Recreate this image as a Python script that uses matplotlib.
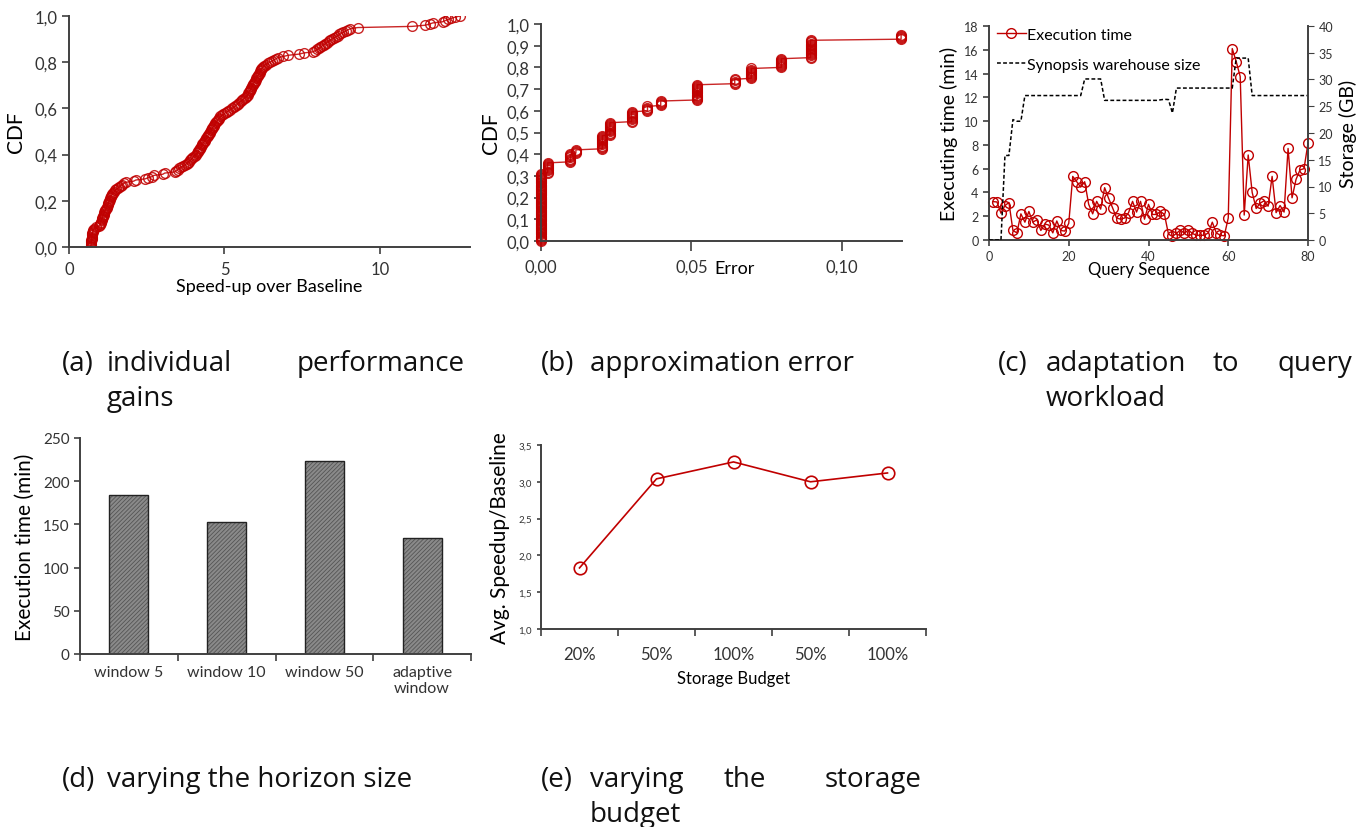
import numpy as np
import matplotlib
matplotlib.use('Agg')
import matplotlib.pyplot as plt
from matplotlib.ticker import FuncFormatter, FixedLocator

plt.rcParams['font.family'] = ['Lato', 'DejaVu Sans']
plt.rcParams['hatch.linewidth'] = 0.6

W, H = 1371, 828
RED = '#C00000'
GREY = '#404040'

# (a) speed-up over baseline, one value per query (sorted)
speedups = [
    0.70, 0.70, 0.71, 0.71, 0.72, 0.72, 0.72, 0.73, 0.73, 0.74, 0.74, 0.75, 0.75, 0.76, 0.77, 0.78,
    0.82, 0.88, 0.95,
    1.00, 1.01, 1.02, 1.03, 1.05, 1.06, 1.07, 1.08, 1.10, 1.11, 1.12, 1.14, 1.15, 1.17, 1.19, 1.21, 1.23,
    1.24, 1.26, 1.27, 1.28, 1.30, 1.31, 1.32, 1.34, 1.35, 1.37, 1.39, 1.42, 1.45, 1.48,
    1.52, 1.57, 1.62, 1.66, 1.71, 1.76,
    1.82, 2.08, 2.15, 2.45,
    2.55, 2.68, 2.73, 3.02, 3.08, 3.40, 3.45, 3.50,
    3.55, 3.60, 3.66, 3.72, 3.78, 3.82, 3.86, 3.90, 3.94, 3.97, 4.00, 4.04, 4.08, 4.12,
    4.14, 4.16, 4.18, 4.20, 4.23, 4.25, 4.27, 4.29, 4.31, 4.34, 4.36, 4.38, 4.41, 4.44,
    4.46, 4.48, 4.50, 4.52, 4.55, 4.57, 4.59, 4.61, 4.63, 4.66, 4.68, 4.70, 4.73, 4.75, 4.78, 4.81, 4.84, 4.87,
    4.92, 4.97, 5.02, 5.08, 5.13, 5.18, 5.24, 5.30,
    5.34, 5.39, 5.43, 5.48, 5.52, 5.57, 5.61, 5.65, 5.69, 5.73,
    5.75, 5.77, 5.79, 5.81, 5.83, 5.85, 5.87, 5.89, 5.91, 5.93, 5.95, 5.97, 5.99, 6.01, 6.03, 6.05,
    6.07, 6.09, 6.11, 6.13, 6.15, 6.17, 6.19, 6.21, 6.24, 6.27,
    6.33, 6.40, 6.47, 6.54, 6.60, 6.66, 6.72, 6.90,
    7.05, 7.40, 7.55, 7.85,
    7.92, 7.98, 8.04, 8.09, 8.14, 8.19, 8.24, 8.30,
    8.35, 8.40, 8.46, 8.52, 8.58, 8.64, 8.70, 8.76, 8.82, 8.90, 8.97, 9.05,
    9.29,
    11.03, 11.45, 11.60, 11.70, 12.02, 12.10, 12.20, 12.30, 12.42, 12.58,
]

# (b) approximation error: distinct error levels and how many queries hit each
err_levels = [0.0, 0.0022, 0.0098, 0.0116, 0.0204, 0.0229, 0.0301, 0.0354, 0.0398,
              0.0519, 0.0644, 0.0699, 0.0799, 0.0896, 0.1197]
err_counts = [63, 10, 8, 4, 13, 12, 10, 5, 5, 15, 5, 10, 9, 17, 5]
err_total = 200  # remaining queries lie beyond the plotted range

# (c) adaptation to query workload
exec_time = [3.23, 3.2, 2.25, 2.9, 3.15, 0.8, 0.6, 2.2, 1.5, 2.4,
             1.5, 1.7, 0.8, 1.35, 1.25, 0.6, 1.6, 0.8, 0.75, 1.4,
             5.35, 4.9, 4.45, 4.9, 3.0, 2.2, 3.25, 2.6, 4.4, 3.5,
             2.7, 1.85, 1.75, 1.85, 2.3, 3.25, 2.35, 3.25, 1.75, 3.0,
             2.15, 2.15, 2.4, 2.15, 0.5, 0.3, 0.55, 0.85, 0.55, 0.85,
             0.55, 0.4, 0.4, 0.4, 0.6, 1.5, 0.6, 0.4, 0.35, 1.85,
             16.1, 15.0, 13.75, 2.1, 7.15, 4.0, 2.65, 3.1, 3.3, 2.85,
             5.35, 2.3, 2.9, 2.35, 7.7, 3.55, 5.1, 5.9, 6.0, 8.15]
storage_gb = [0, 0, 0, 0, 15.8, 15.8, 22.5, 22.2, 22.2, 27.0,
              27.0, 27.0, 27.0, 27.0, 27.0, 27.0, 27.0, 27.0, 27.0, 27.0,
              27.0, 27.0, 27.0, 27.0, 30.1, 30.1, 30.1, 30.1, 30.1, 26.1,
              26.1, 26.1, 26.1, 26.1, 26.1, 26.1, 26.1, 26.1, 26.1, 26.1,
              26.1, 26.1, 26.1, 26.2, 26.3, 26.25, 23.75, 28.4, 28.4, 28.4,
              28.4, 28.4, 28.4, 28.4, 28.4, 28.4, 28.4, 28.4, 28.4, 28.4,
              28.4, 28.4, 34.0, 34.0, 34.0, 34.0, 27.0, 27.0, 27.0, 27.0,
              27.0, 27.0, 27.0, 27.0, 27.0, 27.0, 27.0, 27.0, 27.0, 27.0,
              27.0]

# (d) varying the horizon size
windows = ['window 5', 'window 10', 'window 50', 'adaptive\nwindow']
window_time = [184.5, 153, 223.5, 134.5]

# (e) varying the storage budget
budgets = ['20%', '50%', '100%', '50%', '100%']
budget_speedup = [1.83, 3.04, 3.27, 3.0, 3.12]


def comma(fmt):
    return FuncFormatter(lambda v, p: format(v, fmt).replace('.', ','))


def box(l, t, r, b):
    ax = fig.add_axes([l / W, 1 - b / H, (r - l) / W, (b - t) / H])
    for s in ['top', 'right']:
        ax.spines[s].set_visible(False)
    for s in ['left', 'bottom']:
        ax.spines[s].set_color(GREY)
        ax.spines[s].set_linewidth(1.4)
    ax.tick_params(colors=GREY, width=1.2, labelcolor='#333333')
    return ax


def caption(x, y, s, ha='left'):
    fig.text(x / W, 1 - y / H, s, ha=ha, va='center', fontsize=20,
             family=['Open Sans', 'DejaVu Sans'], color='#111111')


fig = plt.figure(figsize=(W / 100, H / 100), dpi=100)

# (a)
ax = box(69, 17, 470, 248)
ya = np.arange(len(speedups)) / (len(speedups) - 1)
ax.plot(speedups, ya, color=RED, lw=1, marker='o', mfc='none', mec=RED, ms=7, mew=1, alpha=0.85)
ax.set_xlim(0, 12.9)
ax.set_ylim(0, 1.0)
ax.set_yticks(np.arange(0, 1.01, 0.2))
ax.set_xticks([0, 5, 10])
ax.yaxis.set_major_formatter(comma('.1f'))
ax.tick_params(labelsize=12, length=5)
ax.tick_params(axis='x', pad=5)
ax.set_ylabel('CDF', fontsize=15, labelpad=6)
ax.set_xlabel('Speed-up over Baseline', fontsize=13, labelpad=1)

# (b)
ax = box(541, 25, 902, 242)
err_x = np.repeat(err_levels, err_counts)
err_y = np.arange(len(err_x)) / err_total
ax.plot(err_x, err_y, color=RED, lw=1, marker='o', mfc='none', mec=RED, ms=7, mew=1, alpha=0.85,
        clip_on=False)
ax.set_xlim(0, 0.12)
ax.set_ylim(0, 1.0)
ax.set_yticks(np.arange(0, 1.01, 0.1))
ax.set_xticks([0, 0.05, 0.10])
ax.yaxis.set_major_formatter(comma('.1f'))
ax.xaxis.set_major_formatter(comma('.2f'))
ax.tick_params(labelsize=12, length=5)
ax.tick_params(axis='x', length=7, pad=6)
ax.set_ylabel('CDF', fontsize=15, labelpad=4)
ax.text(0.535, -0.125, 'Error', transform=ax.transAxes, ha='center', va='center', fontsize=13)

# (c)
ax = box(989, 27, 1308, 241)
queries = np.arange(1, len(exec_time) + 1)
l1, = ax.plot(queries, exec_time, color=RED, lw=1, marker='o', mfc='none', mec=RED, ms=7, mew=1,
              label='Execution time', clip_on=False)
ax.set_xlim(0, 80)
ax.set_ylim(0, 18)
ax.set_yticks(np.arange(0, 19, 2))
ax.set_xticks(np.arange(0, 81, 20))
ax.tick_params(labelsize=9, length=4)
ax.set_ylabel('Executing time (min)', fontsize=14, labelpad=4)
ax.set_xlabel('Query Sequence', fontsize=12, labelpad=-1)
ax2 = ax.twinx()
ax2.spines['top'].set_visible(False)
ax2.spines['left'].set_visible(False)
ax2.spines['bottom'].set_visible(False)
ax2.spines['right'].set_color(GREY)
ax2.spines['right'].set_linewidth(1.4)
l2, = ax2.plot(np.arange(len(storage_gb)), storage_gb, color='black', lw=1.1, ls=(0, (2.5, 1.5)),
               label='Synopsis warehouse size')
ax2.set_ylim(0, 40)
ax2.set_yticks(np.arange(0, 41, 5))
ax2.tick_params(labelsize=9, length=4, colors=GREY, labelcolor='#333333')
ax2.set_ylabel('Storage (GB)', fontsize=14, labelpad=4)
ax.legend([l1, l2], ['Execution time', 'Synopsis warehouse size'], loc='upper left',
          bbox_to_anchor=(-0.02, 1.06), frameon=False, fontsize=11.5, handlelength=1.8,
          handletextpad=0.1, labelspacing=1.0)

# (d)
ax = box(80, 439, 471, 655)
xd = np.arange(len(windows))
ax.bar(xd, window_time, width=0.4, color='#8a8a8a', edgecolor='#555555', hatch='////////', linewidth=0)
ax.bar(xd, window_time, width=0.4, fill=False, edgecolor='#222222', linewidth=1)
ax.set_xlim(-0.5, len(windows) - 0.5)
ax.set_ylim(0, 250)
ax.set_yticks(np.arange(0, 251, 50))
ax.set_xticks(xd)
ax.set_xticklabels(windows, fontsize=11.5)
ax.xaxis.set_minor_locator(FixedLocator(np.arange(-0.5, len(windows), 1.0)))
ax.tick_params(axis='x', which='major', length=0, pad=8)
ax.tick_params(axis='x', which='minor', length=5, width=1.2, colors=GREY)
ax.tick_params(axis='y', labelsize=11, length=4)
ax.set_ylabel('Execution time (min)', fontsize=15, labelpad=6)

# (e)
ax = box(541, 446, 926, 630)
xe = np.arange(len(budgets))
ax.plot(xe, budget_speedup, color=RED, lw=1.2, marker='o', mfc='none', mec=RED, ms=9, mew=1.2)
ax.set_xlim(-0.5, len(budgets) - 0.5)
ax.set_ylim(1.0, 3.5)
ax.set_yticks(np.arange(1.0, 3.51, 0.5))
ax.yaxis.set_major_formatter(comma('.1f'))
ax.set_xticks(xe)
ax.set_xticklabels(budgets, fontsize=12)
ax.xaxis.set_minor_locator(FixedLocator(np.arange(-0.5, len(budgets), 1.0)))
ax.tick_params(axis='x', which='major', length=0, pad=12)
ax.tick_params(axis='x', which='minor', length=5, width=1.2, colors=GREY)
ax.tick_params(axis='y', labelsize=7, length=3)
ax.set_ylabel('Avg. Speedup/Baseline', fontsize=15, labelpad=6)
ax.set_xlabel('Storage Budget', fontsize=12, labelpad=6)

# captions
caption(62, 364, '(a)')
caption(107, 364, 'individual')
caption(465, 364, 'performance', ha='right')
caption(107, 399, 'gains')
caption(541, 364, '(b)')
caption(590, 364, 'approximation error')
caption(998, 364, '(c)')
caption(1226, 364, 'to', ha='center')
caption(1046, 364, 'adaptation')
caption(1352, 364, 'query', ha='right')
caption(1046, 399, 'workload')
caption(62, 780, '(d)')
caption(107, 780, 'varying the horizon size')
caption(541, 780, '(e)')
caption(590, 780, 'varying')
caption(745, 780, 'the', ha='center')
caption(922, 780, 'storage', ha='right')
caption(590, 815, 'budget')

fig.savefig('out.png', dpi=100)
